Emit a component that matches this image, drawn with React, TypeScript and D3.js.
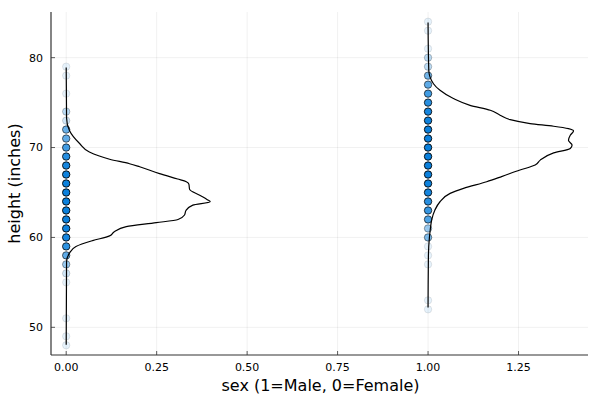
import React from "react";
import * as d3 from "d3";

// heights (inches) and how many people at each height, by sex
const femaleHeights = [48, 49, 51, 55, 56, 57, 58, 59, 60, 61, 62, 63, 64, 65, 66, 67, 68, 69, 70, 71, 72, 73, 74, 76, 78, 79];
const femaleCounts = [1, 1, 1, 1, 2, 5, 10, 18, 30, 40, 50, 60, 60, 55, 45, 35, 28, 20, 14, 10, 9, 2, 3, 1, 1, 1];
const maleHeights = [52, 53, 57, 58, 59, 60, 61, 62, 63, 64, 65, 66, 67, 68, 69, 70, 71, 72, 73, 74, 75, 76, 77, 78, 79, 80, 81, 83, 84];
const maleCounts = [1, 1, 1, 1, 1, 7, 5, 12, 16, 20, 30, 40, 50, 55, 60, 60, 55, 50, 40, 30, 20, 14, 10, 8, 3, 3, 1, 1, 1];

// density outlines: [height, density]
const femaleDensity: [number, number][] = [
  [48.05, 0], [57.3, 0.001], [58.25, 0.009], [59.0, 0.027], [59.65, 0.073], [60.17, 0.12],
  [60.64, 0.133], [61.2, 0.166], [61.64, 0.249], [62.0, 0.309], [62.5, 0.327], [63.0, 0.331],
  [63.6, 0.35], [63.97, 0.398], [64.2, 0.39], [64.7, 0.369], [65.35, 0.341], [65.94, 0.339],
  [66.2, 0.332], [66.5, 0.308], [67.1, 0.258], [67.86, 0.203], [68.2, 0.175], [68.7, 0.12],
  [69.5, 0.064], [70.45, 0.037], [71.9, 0.009], [73.3, 0.001], [78.9, 0],
];
const maleDensity: [number, number][] = [
  [52.2, 0], [58, 0.001], [60.1, 0.004], [60.83, 0.006], [61.94, 0.01], [63.05, 0.019],
  [63.97, 0.033], [64.9, 0.061], [65.46, 0.098], [66.2, 0.162], [66.8, 0.205], [67.5, 0.254],
  [68.05, 0.296], [68.6, 0.31], [69.4, 0.347], [69.9, 0.393], [70.27, 0.398], [70.8, 0.388],
  [71.37, 0.393], [71.85, 0.402], [72.1, 0.388], [72.37, 0.347], [72.67, 0.282], [73.1, 0.227],
  [73.6, 0.199], [74.15, 0.172], [74.7, 0.116], [75.45, 0.07], [76.37, 0.033], [77.1, 0.015],
  [78.6, 0.002], [83.9, 0],
];

const xTicks = [0, 0.25, 0.5, 0.75, 1, 1.25];
const yTicks = [50, 60, 70, 80];

const W = 600;
const H = 400;
const M = { left: 51, right: 12, top: 12, bottom: 45 };
const ALPHA = 0.1;
const BLUE = "#0a80dc";

const App: React.FC = () => {
  const x = d3.scaleLinear().domain([-0.042, 1.442]).range([M.left, W - M.right]);
  const y = d3.scaleLinear().domain([46.92, 85.08]).range([H - M.bottom, M.top]);

  const densLine = (base: number) =>
    d3.line<[number, number]>()
      .x(d => x(base + d[1]))
      .y(d => y(d[0]))
      .curve(d3.curveMonotoneY);

  const groups = [
    { sex: 0, heights: femaleHeights, counts: femaleCounts, dens: femaleDensity },
    { sex: 1, heights: maleHeights, counts: maleCounts, dens: maleDensity },
  ];

  const font = "DejaVu Sans, sans-serif";

  return (
    <svg width={W} height={H} style={{ position: "absolute", left: 0, top: 0, background: "#fff" }}>
      {/* grid */}
      {xTicks.map(t => (
        <line key={"gx" + t} x1={x(t)} x2={x(t)} y1={M.top} y2={H - M.bottom} stroke="#000" strokeOpacity={0.1} strokeWidth={0.6} />
      ))}
      {yTicks.map(t => (
        <line key={"gy" + t} x1={M.left} x2={W - M.right} y1={y(t)} y2={y(t)} stroke="#000" strokeOpacity={0.1} strokeWidth={0.6} />
      ))}

      {/* points */}
      {groups.map(g =>
        g.heights.map((h, i) => {
          const op = 1 - Math.pow(1 - ALPHA, g.counts[i]);
          return (
            <circle
              key={g.sex + "-" + h}
              cx={x(g.sex)}
              cy={y(h)}
              r={3.7}
              fill={BLUE}
              fillOpacity={op}
              stroke="#000"
              strokeOpacity={op}
              strokeWidth={0.9}
            />
          );
        })
      )}

      {/* density outlines */}
      {groups.map(g => (
        <path key={"d" + g.sex} d={densLine(g.sex)(g.dens) as string} fill="none" stroke="#000" strokeWidth={1.2} />
      ))}

      {/* axes */}
      <line x1={M.left} x2={M.left} y1={M.top} y2={H - M.bottom} stroke="#333" strokeWidth={1.2} />
      <line x1={M.left} x2={W - M.right} y1={H - M.bottom} y2={H - M.bottom} stroke="#333" strokeWidth={1.2} />
      {xTicks.map(t => (
        <g key={"tx" + t}>
          <line x1={x(t)} x2={x(t)} y1={H - M.bottom} y2={H - M.bottom - 4} stroke="#333" strokeWidth={0.8} />
          <text x={x(t)} y={H - M.bottom + 16} textAnchor="middle" fontFamily={font} fontSize={11} fill="#000">
            {t.toFixed(2)}
          </text>
        </g>
      ))}
      {yTicks.map(t => (
        <g key={"ty" + t}>
          <line x1={M.left} x2={M.left + 4} y1={y(t)} y2={y(t)} stroke="#333" strokeWidth={0.8} />
          <text x={M.left - 8} y={y(t)} dy="0.35em" textAnchor="end" fontFamily={font} fontSize={11} fill="#000">
            {t}
          </text>
        </g>
      ))}

      {/* axis titles */}
      <text x={(M.left + W - M.right) / 2 + 1} y={H - 9} textAnchor="middle" fontFamily={font} fontSize={16} fill="#000">
        sex (1=Male, 0=Female)
      </text>
      <text
        transform={`translate(14,${(M.top + H - M.bottom) / 2}) rotate(-90)`}
        textAnchor="middle"
        dy="0.35em"
        fontFamily={font}
        fontSize={16}
        fill="#000"
      >
        height (inches)
      </text>
    </svg>
  );
};

export default App;
